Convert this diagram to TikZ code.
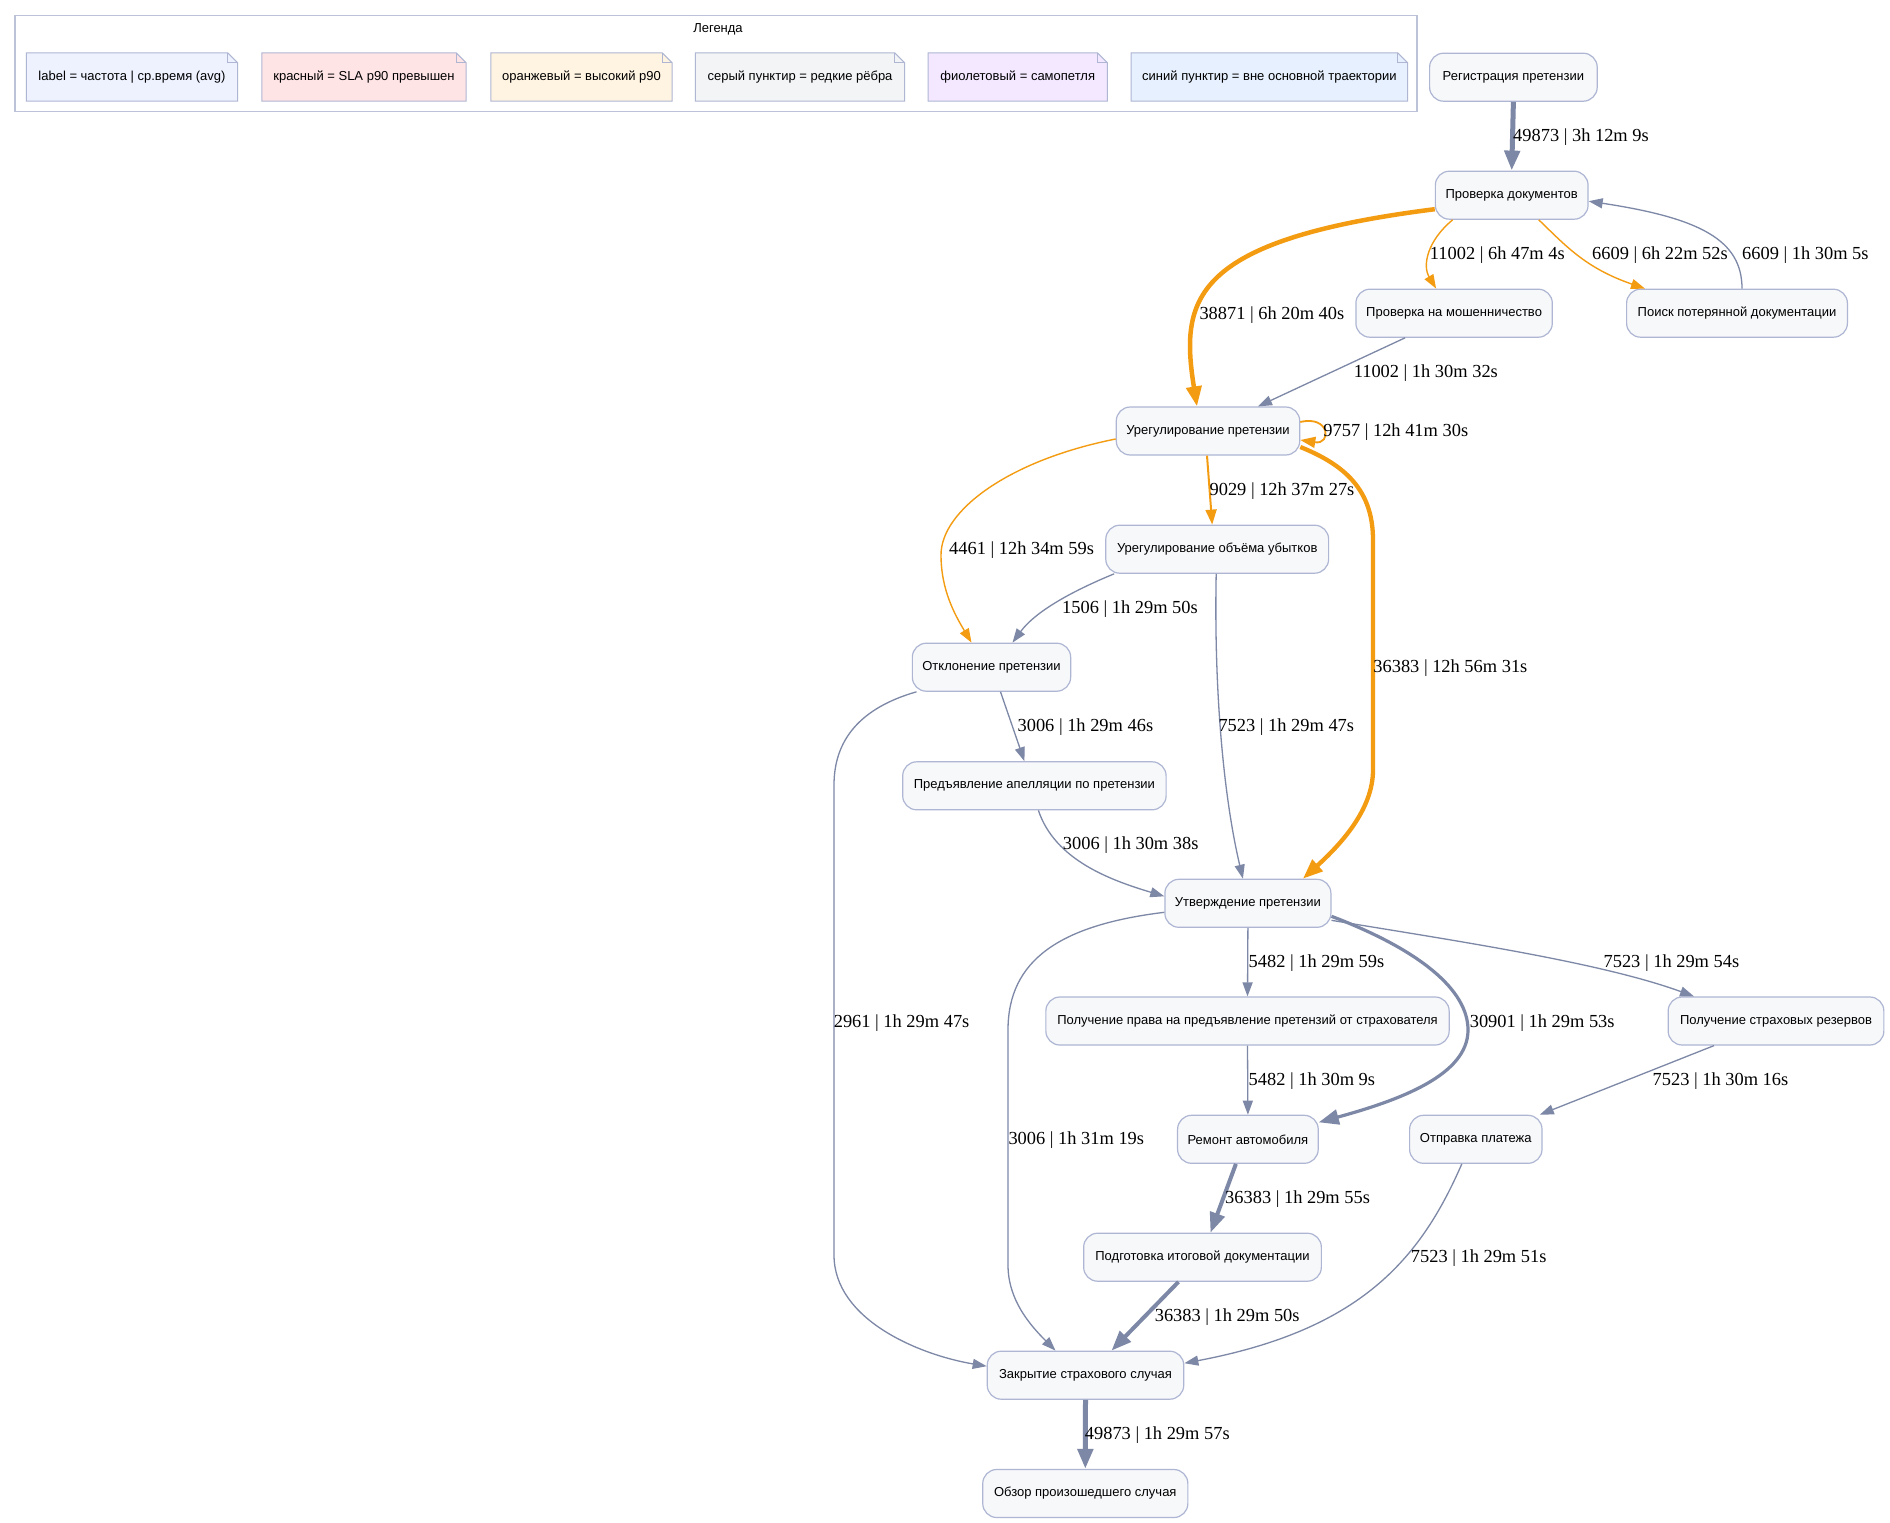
\documentclass[tikz,border=0pt]{standalone}
\usepackage{fontspec}
\setmainfont{Liberation Serif}
\newfontfamily\sansf{Liberation Sans}
\usetikzlibrary{arrows.meta,backgrounds,calc}
\definecolor{nodefill}{HTML}{F7F8FA}
\definecolor{nodebd}{HTML}{AEB6D3}
\definecolor{edgegrey}{HTML}{7D87A6}
\definecolor{orng}{HTML}{F39C12}
\definecolor{legbd}{HTML}{BCC2D8}
\definecolor{ncA}{HTML}{EEF2FF}
\definecolor{ncB}{HTML}{FFE4E6}
\definecolor{ncC}{HTML}{FFF4E2}
\definecolor{ncD}{HTML}{F3F4F6}
\definecolor{ncE}{HTML}{F3E8FF}
\definecolor{ncF}{HTML}{E7F0FE}
\newcommand\drawnotebox[2]{%
  \filldraw[draw=nodebd, fill=#2, line width=1pt] (#1.south west) -- (#1.north west) -- ([xshift=-10pt]#1.north east) -- ([yshift=-10pt]#1.north east) -- (#1.south east) -- cycle;
  \draw[nodebd, line width=0.8pt] ([xshift=-10pt]#1.north east) -- ([xshift=-10pt,yshift=-10pt]#1.north east) -- ([yshift=-10pt]#1.north east);}
\tikzset{
  proc/.style={rounded corners=14pt, draw=nodebd, fill=nodefill, line width=1.2pt, minimum height=48pt, inner xsep=10pt, font=\sansf\fontsize{13}{15}\selectfont},
  legnote/.style={minimum height=48pt, inner sep=0pt, font=\sansf\fontsize{13}{15}\selectfont},
  lbl/.style={anchor=west, inner sep=0pt, font=\fontsize{18.4}{20}\selectfont},
  gthin/.style={draw=edgegrey, line width=1.3pt, -{Triangle[length=14pt,width=10pt]}},
  gthick/.style={draw=edgegrey, -{Triangle[length=20pt,width=15pt]}},
  othin/.style={draw=orng, line width=1.4pt, -{Triangle[length=14pt,width=10pt]}},
  omed/.style={draw=orng, line width=2pt, -{Triangle[length=15pt,width=11pt]}},
  othick/.style={draw=orng, -{Triangle[length=20pt,width=15pt]}},
}
\begin{document}
\begin{tikzpicture}[x=1pt,y=-1pt]
\useasboundingbox (0,0) rectangle (1890,1523);

% legend
\node[draw=legbd, line width=1.2pt, minimum width=1402pt, minimum height=96pt, inner sep=0pt] (legend) at (716,63.7) {};
\node[font=\sansf\fontsize{13}{15}\selectfont] (legtitle) at (718,29) {Легенда};
\node[legnote, minimum width=211pt] (n1) at (132,77) {label = частота | ср.время (avg)};
\node[legnote, minimum width=204pt] (n2) at (364,77) {красный = SLA p90 превышен};
\node[legnote, minimum width=181pt] (n3) at (581.5,77) {оранжевый = высокий p90};
\node[legnote, minimum width=209pt] (n4) at (800,77) {серый пунктир = редкие рёбра};
\node[legnote, minimum width=179pt] (n5) at (1017.7,77) {фиолетовый = самопетля};
\node[legnote, minimum width=276pt] (n6) at (1269.4,77) {синий пунктир = вне основной траектории};
\begin{scope}[on background layer]
\fill[white] (0,0) rectangle (1890,1523);
\drawnotebox{n1}{ncA}
\drawnotebox{n2}{ncB}
\drawnotebox{n3}{ncC}
\drawnotebox{n4}{ncD}
\drawnotebox{n5}{ncE}
\drawnotebox{n6}{ncF}
\end{scope}

% nodes
\node[proc, minimum width=167.6pt] (reg) at (1513.4,77.2) {Регистрация претензии};
\node[proc, minimum width=152.7pt] (doc) at (1511.7,195.2) {Проверка документов};
\node[proc, minimum width=196.4pt] (fraud) at (1454.1,313.2) {Проверка на мошенничество};
\node[proc, minimum width=220.8pt] (lost) at (1737,313.2) {Поиск потерянной документации};
\node[proc, minimum width=183pt] (urp) at (1208,431) {Урегулирование претензии};
\node[proc, minimum width=222.8pt] (vol) at (1217.2,549.2) {Урегулирование объёма убытков};
\node[proc, minimum width=158pt] (rej) at (991.5,667.2) {Отклонение претензии};
\node[proc, minimum width=263.4pt] (appeal) at (1034.4,785.8) {Предъявление апелляции по претензии};
\node[proc, minimum width=165pt] (appr) at (1247.9,903.3) {Утверждение претензии};
\node[proc, minimum width=403.3pt] (right) at (1247.5,1021) {Получение права на предъявление претензий от страхователя};
\node[proc, minimum width=215.7pt] (reserves) at (1776,1021) {Получение страховых резервов};
\node[proc, minimum width=140.6pt] (repair) at (1247.9,1139.3) {Ремонт автомобиля};
\node[proc, minimum width=132.4pt] (payment) at (1475.8,1139.3) {Отправка платежа};
\node[proc, minimum width=237.7pt] (prep) at (1202.5,1257.2) {Подготовка итоговой документации};
\node[proc, minimum width=196.5pt] (close) at (1085.5,1375.2) {Закрытие страхового случая};
\node[proc, minimum width=205.1pt] (review) at (1085.3,1493.5) {Обзор произошедшего случая};

% edges
\draw[gthick, line width=5pt] (reg.south) -- (doc.north);
\draw[othick, line width=4.5pt] ([yshift=-14pt]doc.west) .. controls (1190,240) and (1180,300) .. ([xshift=-11pt]urp.north);
\draw[othin] ([xshift=-59pt]doc.south) .. controls (1428,240) and (1422,265) .. ([xshift=-18pt]fraud.north);
\draw[othin] ([xshift=27pt]doc.south) .. controls (1565,245) and (1585,268) .. ([xshift=-92pt]lost.north);
\draw[gthin] ([xshift=5pt]lost.north) .. controls (1742,240) and (1700,218) .. ([yshift=-6pt]doc.east);
\draw[gthin] ([xshift=-49pt]fraud.south) -- ([xshift=50pt]urp.north);
\draw[omed, line width=1.8pt] ([yshift=9pt]urp.east) .. controls (1330,415) and (1332,445) .. ([yshift=-9pt]urp.east);
\draw[omed] ([xshift=-1pt]urp.south) -- ([xshift=-5pt]vol.north);
\draw[othin] ([yshift=-8pt]urp.west) .. controls (1010,460) and (941,510) .. (941,555) .. controls (941,590) and (955,615) .. ([xshift=-20pt]rej.north);
\draw[othick, line width=4.3pt] ([yshift=-16pt]urp.east) .. controls (1345,465) and (1373,490) .. (1373,540) -- (1373,770) .. controls (1373,810) and (1340,845) .. ([xshift=55pt]appr.north);
\draw[gthin] ([xshift=-103pt]vol.south) .. controls (1070,592) and (1035,612) .. ([xshift=21pt]rej.north);
\draw[gthin] ([xshift=-1pt]vol.south) .. controls (1214,680) and (1222,790) .. ([xshift=-5pt]appr.north);
\draw[gthin] ([xshift=9pt]rej.south) -- ([xshift=-10pt]appeal.north);
\draw[gthin] ([xshift=-75pt]rej.south) .. controls (860,708) and (834,740) .. (834,785) -- (834,1255) .. controls (834,1320) and (920,1355) .. ([yshift=9pt]close.west);
\draw[gthin] ([xshift=4pt]appeal.south) .. controls (1055,860) and (1110,880) .. ([yshift=7pt]appr.west);
\draw[gthin] (appr.south) -- (right.north);
\draw[gthick, line width=3.2pt] ([yshift=-13pt]appr.east) .. controls (1420,950) and (1468,990) .. (1468,1030) .. controls (1468,1075) and (1400,1100) .. ([yshift=17pt]repair.east);
\draw[gthin] ([yshift=-17pt]appr.east) .. controls (1450,940) and (1600,962) .. ([xshift=-82pt]reserves.north);
\draw[gthin] ([yshift=-9pt]appr.west) .. controls (1060,925) and (1008,960) .. (1008,1030) -- (1008,1265) .. controls (1008,1300) and (1030,1325) .. ([xshift=-30pt]close.north);
\draw[gthin] (right.south) -- (repair.north);
\draw[gthin] ([xshift=-62pt]reserves.south) -- ([xshift=64pt]payment.north);
\draw[gthick, line width=4pt] ([xshift=-12pt]repair.south) -- ([xshift=8pt]prep.north);
\draw[gthick, line width=4pt] ([xshift=-24pt]prep.south) -- ([xshift=26pt]close.north);
\draw[gthin] ([xshift=-14pt]payment.south) .. controls (1420,1260) and (1360,1330) .. ([yshift=12pt]close.east);
\draw[gthick, line width=5pt] (close.south) -- (review.north);

% labels
\node[lbl] (l1) at (1513,137) {49873 | 3h 12m 9s};
\node[lbl] (l2) at (1199.3,315) {38871 | 6h 20m 40s};
\node[lbl] (l3) at (1429.7,255) {11002 | 6h 47m 4s};
\node[lbl] (l4) at (1592,255) {6609 | 6h 22m 52s};
\node[lbl] (l5) at (1742,255) {6609 | 1h 30m 5s};
\node[lbl] (l6) at (1353.6,373.3) {11002 | 1h 30m 32s};
\node[lbl] (l7) at (1323.2,431.7) {9757 | 12h 41m 30s};
\node[lbl] (l8) at (1209.4,490.7) {9029 | 12h 37m 27s};
\node[lbl] (l9) at (949,550) {4461 | 12h 34m 59s};
\node[lbl] (l10) at (1373.2,668.3) {36383 | 12h 56m 31s};
\node[lbl] (l11) at (1062,609.3) {1506 | 1h 29m 50s};
\node[lbl] (l12) at (1218.3,726.7) {7523 | 1h 29m 47s};
\node[lbl] (l13) at (1017.4,726.7) {3006 | 1h 29m 46s};
\node[lbl] (l14) at (833.6,1022.7) {2961 | 1h 29m 47s};
\node[lbl] (l15) at (1062.7,844.8) {3006 | 1h 30m 38s};
\node[lbl] (l16) at (1248.5,963.3) {5482 | 1h 29m 59s};
\node[lbl] (l17) at (1469.6,1022.7) {30901 | 1h 29m 53s};
\node[lbl] (l18) at (1603.4,963.3) {7523 | 1h 29m 54s};
\node[lbl] (l19) at (1008.3,1140) {3006 | 1h 31m 19s};
\node[lbl] (l20) at (1248.5,1081) {5482 | 1h 30m 9s};
\node[lbl] (l21) at (1652.5,1081) {7523 | 1h 30m 16s};
\node[lbl] (l22) at (1225,1199.3) {36383 | 1h 29m 55s};
\node[lbl] (l23) at (1154.6,1316.7) {36383 | 1h 29m 50s};
\node[lbl] (l24) at (1410.7,1257.7) {7523 | 1h 29m 51s};
\node[lbl] (l25) at (1084.7,1435) {49873 | 1h 29m 57s};
\end{tikzpicture}
\end{document}
